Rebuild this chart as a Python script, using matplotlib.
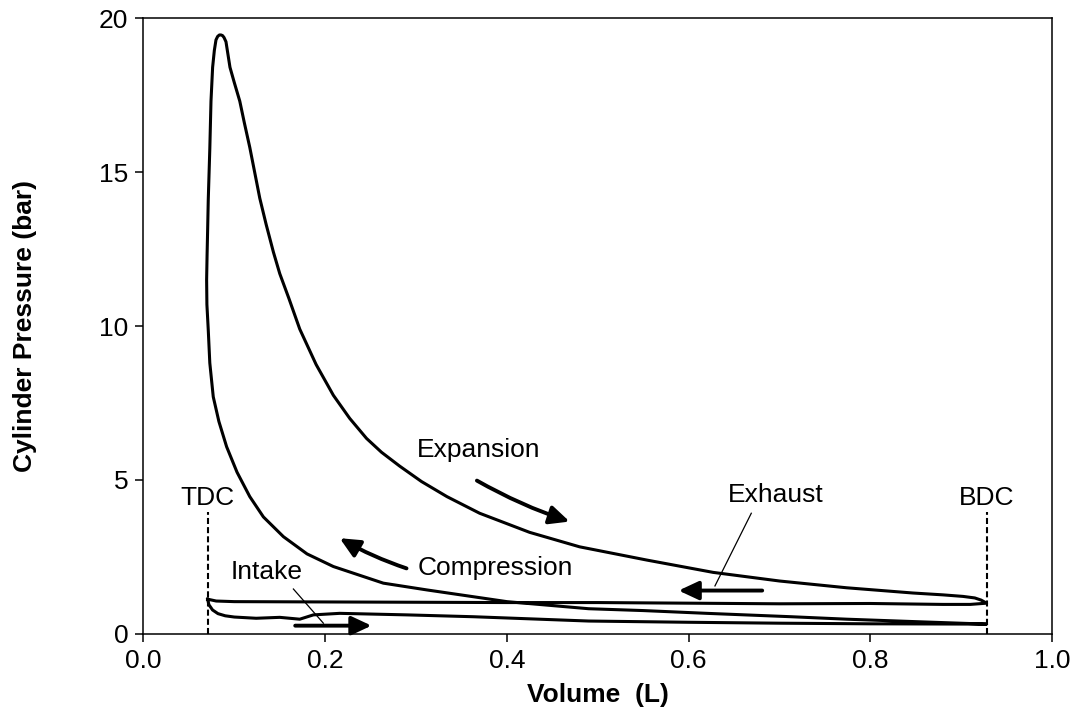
import numpy as np
import matplotlib
matplotlib.use("Agg")
import matplotlib.pyplot as plt

plt.rcParams['font.family'] = ['Liberation Sans', 'DejaVu Sans']

# one engine cycle (volume in L, pressure in bar)
# intake: TDC -> BDC
intake_v = [0.0706, 0.072, 0.076, 0.082, 0.090, 0.100, 0.124, 0.150, 0.172, 0.187,
            0.216, 0.290, 0.363, 0.490, 0.600, 0.700, 0.800, 0.928]
intake_p = [1.13, 0.95, 0.78, 0.66, 0.59, 0.55, 0.51, 0.54, 0.48, 0.62,
            0.67, 0.62, 0.56, 0.42, 0.38, 0.35, 0.33, 0.32]
# compression: BDC -> TDC -> peak
comp_v = [0.928, 0.850, 0.774, 0.713, 0.620, 0.550, 0.490, 0.400, 0.312, 0.264,
          0.209, 0.180, 0.154, 0.132, 0.117, 0.103, 0.0915, 0.083, 0.0768, 0.0730,
          0.0713, 0.0698, 0.0695, 0.0700, 0.0706, 0.0713, 0.0730, 0.0743, 0.0761,
          0.0780, 0.0798, 0.0816, 0.0835, 0.0853]
comp_p = [0.32, 0.40, 0.48, 0.56, 0.67, 0.76, 0.82, 1.05, 1.43, 1.65,
          2.19, 2.60, 3.16, 3.80, 4.46, 5.25, 6.08, 6.90, 7.70, 8.80,
          9.87, 10.70, 11.50, 12.30, 13.10, 14.10, 15.75, 17.30, 18.40,
          18.95, 19.29, 19.40, 19.45, 19.45]
# expansion: peak -> BDC
exp_v = [0.0853, 0.0870, 0.0886, 0.0908, 0.0952, 0.1000, 0.106, 0.111, 0.117, 0.123,
         0.128, 0.135, 0.143, 0.150, 0.160, 0.172, 0.190, 0.209, 0.227, 0.2455,
         0.262, 0.282, 0.306, 0.334, 0.370, 0.425, 0.480, 0.554, 0.627, 0.700,
         0.774, 0.847, 0.880, 0.902, 0.915, 0.922, 0.928]
exp_p = [19.45, 19.43, 19.37, 19.23, 18.40, 17.90, 17.30, 16.60, 15.80, 14.90,
         14.15, 13.30, 12.40, 11.70, 10.90, 9.90, 8.75, 7.75, 7.00, 6.35,
         5.90, 5.45, 4.95, 4.46, 3.92, 3.30, 2.83, 2.40, 2.00, 1.72,
         1.50, 1.33, 1.27, 1.22, 1.17, 1.10, 1.00]
# exhaust: BDC -> TDC
exh_v = [0.928, 0.910, 0.880, 0.800, 0.700, 0.600, 0.500, 0.400, 0.300, 0.200,
         0.100, 0.080, 0.0706]
exh_p = [1.00, 0.96, 0.96, 0.99, 0.98, 1.00, 1.02, 1.02, 1.03, 1.04,
         1.05, 1.07, 1.13]

tdc_v = 0.0706
bdc_v = 0.928

fig = plt.figure(figsize=(10.78, 7.21), dpi=100)
ax = fig.add_axes([0.1331, 0.1207, 0.8428, 0.8543])

v = intake_v + comp_v[1:] + exp_v[1:] + exh_v[1:]
p = intake_p + comp_p[1:] + exp_p[1:] + exh_p[1:]
ax.plot(v, p, color='black', lw=2.2, solid_joinstyle='round')

# TDC / BDC markers
ax.plot([tdc_v, tdc_v], [0, 3.97], color='black', lw=1.5, ls=(0, (2.9, 1.5)))
ax.plot([bdc_v, bdc_v], [0, 3.95], color='black', lw=1.5, ls=(0, (2.9, 1.5)))

fs = 19
ax.text(tdc_v, 4.19, 'TDC', ha='center', va='baseline', fontsize=fs)
ax.text(bdc_v, 4.19, 'BDC', ha='center', va='baseline', fontsize=fs)
ax.text(0.369, 5.74, 'Expansion', ha='center', va='baseline', fontsize=fs)
ax.text(0.387, 1.92, 'Compression', ha='center', va='baseline', fontsize=fs)
ax.text(0.696, 4.30, 'Exhaust', ha='center', va='baseline', fontsize=fs)
ax.text(0.136, 1.78, 'Intake', ha='center', va='baseline', fontsize=fs)

# direction arrows
head = '-|>,head_length=0.6,head_width=0.28'
def arrow(x0, y0, x1, y1, rad=0.0):
    ax.annotate('', xy=(x1, y1), xytext=(x0, y0),
                arrowprops=dict(arrowstyle=head, mutation_scale=20, color='black',
                                lw=2.8, shrinkA=0, shrinkB=0,
                                connectionstyle=f'arc3,rad={rad}'))

arrow(0.367, 4.98, 0.469, 3.65, rad=0.05)
arrow(0.2895, 2.13, 0.216, 3.11, rad=-0.05)
arrow(0.681, 1.41, 0.589, 1.41)
arrow(0.167, 0.27, 0.251, 0.27)

# leader lines
ax.plot([0.165, 0.198], [1.46, 0.35], color='black', lw=0.9)
ax.plot([0.669, 0.629], [3.92, 1.56], color='black', lw=0.9)

ax.set_xlim(0, 1.0)
ax.set_ylim(0, 20)
ax.set_xticks(np.arange(0, 1.01, 0.2))
ax.set_xticklabels([f'{t:.1f}' for t in np.arange(0, 1.01, 0.2)])
ax.set_yticks([0, 5, 10, 15, 20])
ax.tick_params(direction='out', length=6, width=1.1, labelsize=fs, pad=5)
for s in ax.spines.values():
    s.set_linewidth(1.1)

ax.set_xlabel('Volume  (L)', fontsize=fs, fontweight='bold')
ax.set_ylabel('Cylinder Pressure (bar)', fontsize=fs, fontweight='bold')
ax.xaxis.set_label_coords(0.5, -0.08)
ax.yaxis.set_label_coords(-0.117, 0.5)

fig.savefig('out.png', dpi=100)
